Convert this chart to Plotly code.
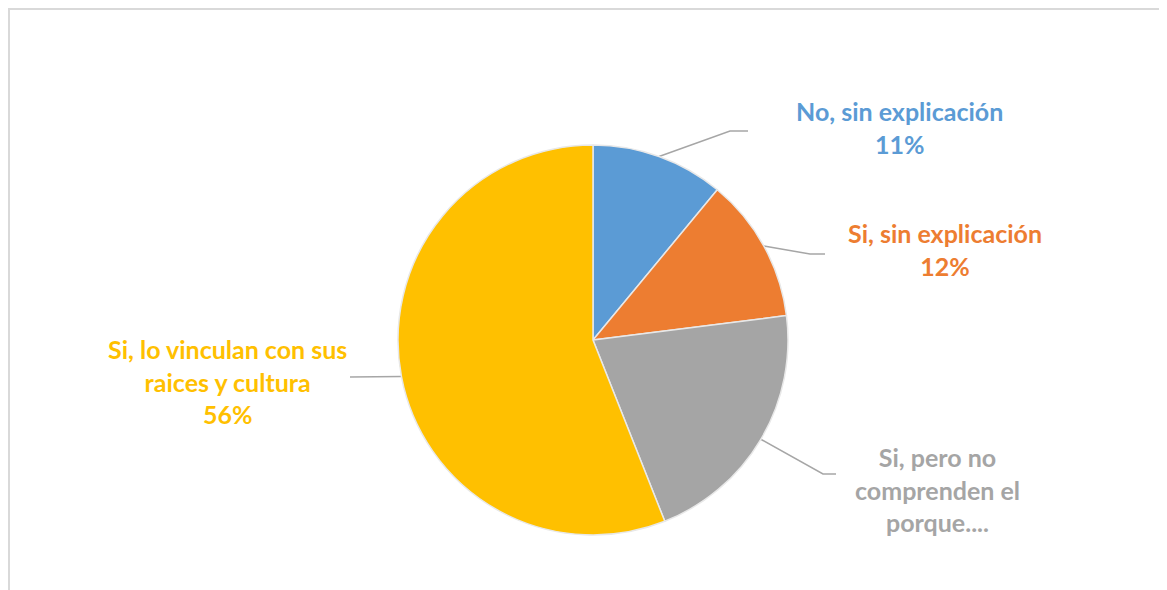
"""Pie chart: razones de la respuesta (Plotly recreation)."""
import math

import plotly.graph_objects as go

W, H = 1167, 590
OFF = 8  # page offset of the figure (body margin)

labels = [
    "No, sin explicación",
    "Si, sin explicación",
    "Si, pero no comprenden el porque....",
    "Si, lo vinculan con sus raices y cultura",
]
values = [11, 12, 21, 56]
colors = ["#5B9BD5", "#ED7D31", "#A5A5A5", "#FFC000"]

# label text as shown in the chart (the gray one is cut off in the original)
label_lines = [
    ["No, sin explicación"],
    ["Si, sin explicación"],
    ["Si, pero no", "comprenden el", "porque...."],
    ["Si, lo vinculan con sus", "raices y cultura"],
]
show_pct = [True, True, False, True]

# layout of the labels (page pixels): text centre, elbow of leader, end of leader
label_pos = [(899, 127), (945, 249), (937, 489), (227, 381)]
leader_elbow = [(730, 131), (810, 254), (823, 474), (362, 377)]
leader_end = [(748, 131), (825, 254), (836, 474), (350, 377)]

CX, CY, R = 593, 340, 195
FONT = "Lato"

fig = go.Figure()
fig.add_trace(
    go.Pie(
        labels=labels,
        values=values,
        sort=False,
        direction="clockwise",
        rotation=0,
        marker=dict(colors=colors, line=dict(color="#e8e8e8", width=1.5)),
        textinfo="none",
        hoverinfo="label+percent",
        showlegend=False,
        domain=dict(
            x=[(CX - R - OFF) / W, (CX + R - OFF) / W],
            y=[1 - (CY + R - OFF) / H, 1 - (CY - R - OFF) / H],
        ),
    )
)

total = sum(values)
cum = 0
for i, v in enumerate(values):
    mid = (cum + v / 2) / total * 2 * math.pi
    cum += v
    ex, ey = CX + R * math.sin(mid), CY - R * math.cos(mid)
    fig.add_trace(
        go.Scatter(
            x=[ex, leader_elbow[i][0], leader_end[i][0]],
            y=[ey, leader_elbow[i][1], leader_end[i][1]],
            mode="lines",
            line=dict(color="#a6a6a6", width=1.5),
            hoverinfo="skip",
            showlegend=False,
        )
    )
    lines = list(label_lines[i])
    if show_pct[i]:
        lines.append(f"{round(v / total * 100)}%")
    fig.add_annotation(
        x=label_pos[i][0],
        y=label_pos[i][1],
        text="<b>" + "<br>".join(lines) + "</b>",
        showarrow=False,
        align="center",
        xanchor="center",
        yanchor="middle",
        font=dict(family=FONT, size=25, color=colors[i]),
    )

# thin chart-area border (top and left visible)
fig.add_shape(
    type="rect", x0=OFF + 1, y0=OFF + 1, x1=W + 20, y1=H + 20,
    line=dict(color="#d9d9d9", width=2), layer="below",
)

fig.update_layout(
    width=W,
    height=H,
    margin=dict(l=0, r=0, t=0, b=0),
    paper_bgcolor="white",
    plot_bgcolor="rgba(0,0,0,0)",
    xaxis=dict(range=[OFF, W + OFF], visible=False, fixedrange=True),
    yaxis=dict(range=[H + OFF, OFF], visible=False, fixedrange=True),
)

fig.write_html("out.html")
